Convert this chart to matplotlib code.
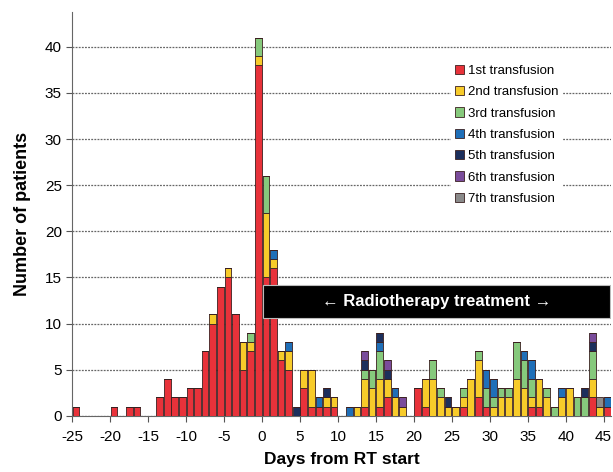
import numpy as np
import matplotlib.pyplot as plt

plt.rcParams['font.family'] = ['Liberation Sans', 'DejaVu Sans']
plt.rcParams['axes.unicode_minus'] = False

days = np.arange(-25, 46)

# patients per day, by transfusion number (day: count)
first = {-25: 1, -20: 1, -18: 1, -17: 1, -14: 2, -13: 4, -12: 2, -11: 2, -10: 3,
         -9: 3, -8: 7, -7: 10, -6: 14, -5: 15, -4: 11, -3: 5, -2: 7, -1: 38,
         0: 15, 1: 16, 2: 6, 3: 5, 5: 3, 6: 1, 7: 1, 8: 1, 9: 1, 13: 1, 15: 1,
         16: 2, 20: 3, 21: 1, 26: 1, 28: 2, 29: 1, 35: 1, 36: 1, 43: 2, 45: 1}
second = {-7: 1, -5: 1, -3: 3, -2: 1, -1: 1, 0: 7, 1: 1, 2: 1, 3: 2, 5: 2, 6: 4,
          8: 1, 9: 1, 12: 1, 13: 3, 14: 3, 15: 3, 16: 2, 17: 2, 18: 1, 21: 3,
          22: 4, 23: 2, 24: 1, 25: 1, 26: 1, 27: 4, 28: 4, 30: 1, 31: 2, 32: 2,
          33: 4, 34: 3, 35: 1, 36: 3, 37: 2, 39: 2, 40: 3, 43: 2, 44: 1}
third = {-2: 1, -1: 2, 0: 4, 13: 1, 14: 2, 15: 3, 22: 2, 23: 1, 26: 1, 28: 1,
         29: 2, 30: 1, 31: 1, 32: 1, 33: 4, 34: 3, 35: 2, 37: 1, 38: 1, 41: 2,
         42: 2, 43: 3}
fourth = {1: 1, 3: 1, 7: 1, 11: 1, 15: 1, 17: 1, 29: 2, 30: 2, 34: 1, 35: 2,
          39: 1, 45: 1}
fifth = {4: 1, 8: 1, 13: 1, 15: 1, 16: 1, 24: 1, 42: 1, 43: 1}
sixth = {13: 1, 16: 1, 18: 1, 43: 1}
seventh = {44: 1}

series = [first, second, third, fourth, fifth, sixth, seventh]
labels = ['1st transfusion', '2nd transfusion', '3rd transfusion', '4th transfusion',
          '5th transfusion', '6th transfusion', '7th transfusion']
colors = ['#e8323a', '#f7cb2a', '#86c97c', '#1f6fb8', '#1c2f5c', '#7a4c9b', '#8a8a8a']

fig = plt.figure(figsize=(6.13, 4.72), dpi=100)
ax = fig.add_axes([0.118, 0.119, 0.879, 0.856])

bottom = np.zeros(len(days))
for s, lab, c in zip(series, labels, colors):
    vals = np.array([s.get(int(d), 0) for d in days], dtype=float)
    ax.bar(days + 0.5, vals, width=0.88, bottom=bottom, color=c,
           edgecolor='#3a2020', linewidth=0.6, label=lab, zorder=3)
    bottom += vals

ax.set_xlim(-25, 46)
ax.set_ylim(0, 43.8)
ax.set_xticks(np.arange(-25, 46, 5))
ax.set_yticks(np.arange(0, 41, 5))
ax.tick_params(labelsize=11, length=4, color='#555555')
ax.tick_params(axis='x', pad=6)
ax.yaxis.grid(True, linestyle=(0, (1.5, 1)), color='#666666', linewidth=0.9, zorder=0)
ax.set_axisbelow(True)
for side in ['top', 'right']:
    ax.spines[side].set_visible(False)
for side in ['left', 'bottom']:
    ax.spines[side].set_color('#666666')

ax.set_xlabel('Days from RT start', fontsize=12.5, fontweight='bold', labelpad=6)
ax.set_ylabel('Number of patients', fontsize=13, fontweight='bold', labelpad=10)

# treatment period banner
ax.add_patch(plt.Rectangle((0.1, 10.6), 45.8, 3.6, facecolor='black',
                           edgecolor='#bbbbbb', linewidth=0.8, zorder=5))
ax.text(23, 12.4, '\u2190 Radiotherapy treatment \u2192', color='white', fontsize=12,
        fontweight='bold', ha='center', va='center', zorder=6)

leg = ax.legend(loc='upper left', bbox_to_anchor=(0.69, 0.895), fontsize=9.5,
                frameon=True, framealpha=1, edgecolor='none', fancybox=False,
                handlelength=0.7, handleheight=0.7, handletextpad=0.3,
                labelspacing=0.69, borderpad=0.3)
leg.set_zorder(7)

fig.savefig('out.png', dpi=100)
